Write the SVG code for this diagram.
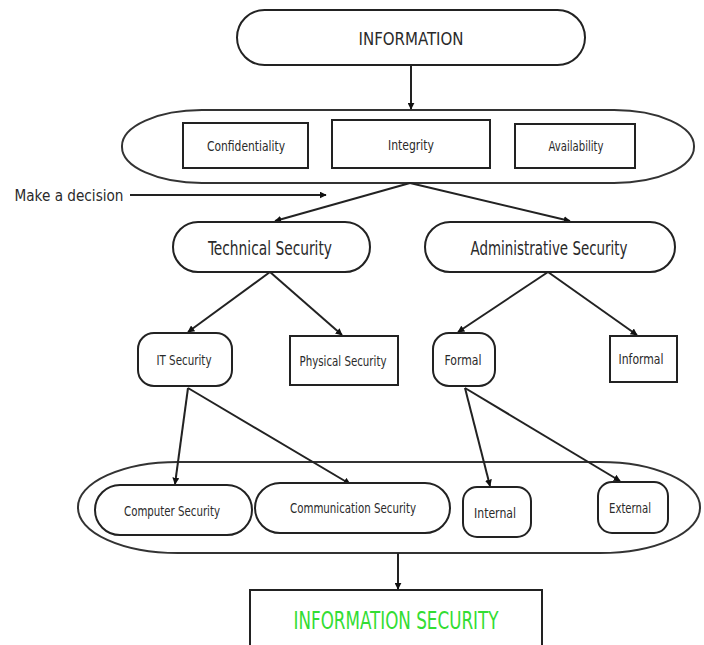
<svg xmlns="http://www.w3.org/2000/svg" width="704" height="645" viewBox="0 0 704 645">
  <style>
    .box { fill: #fff; stroke: #222; stroke-width: 2; }
    .cont { fill: none; stroke: #333; stroke-width: 2; }
    .lbl { font-family: "DejaVu Sans Condensed", "DejaVu Sans", sans-serif; fill: #2a2a2a; text-anchor: middle; dominant-baseline: central; }
    .edge { stroke: #222; stroke-width: 2; fill: none; marker-end: url(#arr); }
  </style>
  <defs>
    <marker id="arr" viewBox="0 0 10 10" refX="9" refY="5" markerWidth="7" markerHeight="7" orient="auto" markerUnits="userSpaceOnUse">
      <path d="M0,0 L10,5 L0,10 z" fill="#111"/>
    </marker>
  </defs>
  <rect width="704" height="645" fill="#fff"/>

  <!-- groupings -->
  <rect id="cia-group" class="cont" x="122" y="110" width="572" height="73" rx="80" ry="36"/>
  <rect id="component-group" class="cont" x="78" y="462" width="622" height="91" rx="100" ry="45"/>

  <!-- connectors -->
  <g id="connectors">
    <line class="edge" x1="411" y1="65" x2="411" y2="109"/>
    <line class="edge" x1="130" y1="195" x2="326" y2="195"/>
    <line class="edge" x1="410" y1="183" x2="275" y2="221"/>
    <line class="edge" x1="410" y1="183" x2="570" y2="221"/>
    <line class="edge" x1="270" y1="272" x2="188" y2="332"/>
    <line class="edge" x1="270" y1="272" x2="342" y2="335"/>
    <line class="edge" x1="548" y1="272" x2="458" y2="332"/>
    <line class="edge" x1="548" y1="272" x2="637" y2="335"/>
    <line class="edge" x1="188" y1="388" x2="175" y2="484"/>
    <line class="edge" x1="188" y1="388" x2="350" y2="484"/>
    <line class="edge" x1="465" y1="388" x2="490" y2="486"/>
    <line class="edge" x1="465" y1="388" x2="620" y2="481"/>
    <line class="edge" x1="398" y1="553" x2="398" y2="589"/>
  </g>

  <g id="information">
    <rect class="box" x="237" y="10" width="348" height="55" rx="27.5"/>
    <text class="lbl" x="411" y="38" font-size="18" textLength="105" lengthAdjust="spacingAndGlyphs">INFORMATION</text>
  </g>

  <g id="confidentiality">
    <rect class="box" x="183" y="123" width="125" height="45"/>
    <text class="lbl" x="246" y="146" font-size="14" textLength="78" lengthAdjust="spacingAndGlyphs">Confidentiality</text>
  </g>
  <g id="integrity">
    <rect class="box" x="332" y="120" width="158" height="48"/>
    <text class="lbl" x="411" y="145" font-size="14" textLength="46" lengthAdjust="spacingAndGlyphs">Integrity</text>
  </g>
  <g id="availability">
    <rect class="box" x="515" y="124" width="120" height="44"/>
    <text class="lbl" x="576" y="146" font-size="14" textLength="55" lengthAdjust="spacingAndGlyphs">Availability</text>
  </g>

  <g id="make-decision">
    <text class="lbl" x="69" y="195" font-size="16" textLength="109" lengthAdjust="spacingAndGlyphs">Make a decision</text>
  </g>

  <g id="technical-security">
    <rect class="box" x="173" y="222" width="197" height="50" rx="25"/>
    <text class="lbl" x="270" y="248" font-size="19" textLength="124" lengthAdjust="spacingAndGlyphs">Technical Security</text>
  </g>
  <g id="administrative-security">
    <rect class="box" x="425" y="222" width="250" height="50" rx="25"/>
    <text class="lbl" x="549" y="248" font-size="19" textLength="157" lengthAdjust="spacingAndGlyphs">Administrative Security</text>
  </g>

  <g id="it-security">
    <rect class="box" x="138" y="333" width="94" height="53" rx="16"/>
    <text class="lbl" x="184" y="360" font-size="14" textLength="55" lengthAdjust="spacingAndGlyphs">IT Security</text>
  </g>
  <g id="physical-security">
    <rect class="box" x="290" y="336" width="108" height="49"/>
    <text class="lbl" x="343" y="361" font-size="14" textLength="87" lengthAdjust="spacingAndGlyphs">Physical Security</text>
  </g>
  <g id="formal">
    <rect class="box" x="433" y="333" width="62" height="53" rx="16"/>
    <text class="lbl" x="463" y="360" font-size="14" textLength="37" lengthAdjust="spacingAndGlyphs">Formal</text>
  </g>
  <g id="informal">
    <rect class="box" x="610" y="336" width="67" height="46"/>
    <text class="lbl" x="641" y="359" font-size="14" textLength="45" lengthAdjust="spacingAndGlyphs">Informal</text>
  </g>

  <g id="computer-security">
    <rect class="box" x="95" y="485" width="157" height="50" rx="25"/>
    <text class="lbl" x="172" y="511" font-size="14" textLength="96" lengthAdjust="spacingAndGlyphs">Computer Security</text>
  </g>
  <g id="communication-security">
    <rect class="box" x="255" y="483" width="195" height="50" rx="25"/>
    <text class="lbl" x="353" y="508" font-size="14" textLength="126" lengthAdjust="spacingAndGlyphs">Communication Security</text>
  </g>
  <g id="internal">
    <rect class="box" x="463" y="487" width="68" height="50" rx="14"/>
    <text class="lbl" x="495" y="513" font-size="14" textLength="42" lengthAdjust="spacingAndGlyphs">Internal</text>
  </g>
  <g id="external">
    <rect class="box" x="598" y="482" width="70" height="51" rx="14"/>
    <text class="lbl" x="630" y="508" font-size="14" textLength="42" lengthAdjust="spacingAndGlyphs">External</text>
  </g>

  <g id="information-security">
    <rect class="box" x="250" y="590" width="292" height="62"/>
    <text class="lbl" x="396" y="620" font-size="25" style="fill:#33dd33" textLength="205" lengthAdjust="spacingAndGlyphs">INFORMATION SECURITY</text>
  </g>
</svg>
